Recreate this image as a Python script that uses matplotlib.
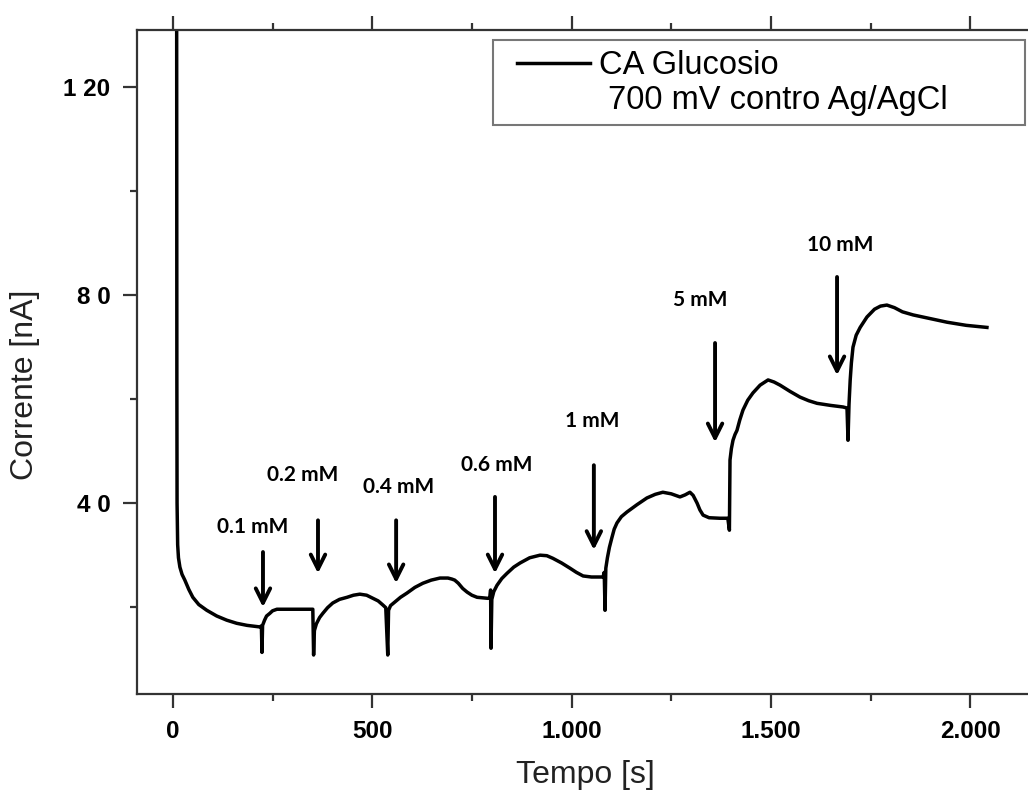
import matplotlib
matplotlib.use("Agg")
import matplotlib.pyplot as plt
from matplotlib.patches import Rectangle
from matplotlib.ticker import FixedLocator, FixedFormatter

# chronoamperometry trace, time [s] and current [nA]
tempo = [9, 10, 10.5, 12, 14, 17.6, 23, 30, 40, 50, 65, 85, 110, 135, 160,
         186, 218, 222, 223.5, 225, 230, 235, 243, 250, 261, 300, 344, 351,
         353, 355, 360, 368, 376, 388, 401, 418, 437, 453, 469, 486, 502,
         515, 527, 534, 539, 541, 546, 557, 571, 587, 607, 627, 648, 670,
         690, 700, 707, 716, 727, 738, 750, 763, 790, 795, 797, 798, 800,
         805, 813, 825, 838, 855, 871, 895, 921, 938, 953, 975, 996, 1012,
         1029, 1050, 1079, 1082, 1084, 1086, 1090, 1095, 1101, 1107, 1114,
         1125, 1139, 1164, 1189, 1210, 1229, 1250, 1272, 1285, 1297, 1305,
         1315, 1322, 1330, 1345, 1372, 1392, 1396, 1397.5, 1401, 1405, 1410,
         1415, 1422, 1430, 1442, 1455, 1473, 1493, 1508, 1523, 1548, 1573,
         1595, 1616, 1650, 1681, 1691, 1693.5, 1696, 1699, 1702, 1706, 1714,
         1724, 1741, 1760, 1775, 1791, 1810, 1830, 1857, 1900, 1942, 1990,
         2042]
corrente = [200, 63.7, 40.0, 32.0, 29.5, 27.7, 26.3, 25.2, 23.4, 21.9, 20.5, 19.4, 18.3, 17.5, 16.9,
            16.5, 16.2, 16.4, 11.3, 16.5, 17.5, 18.3, 18.8, 19.3, 19.6, 19.6, 19.6, 19.6,
            10.8, 15.5, 16.8, 18.0, 18.8, 19.9, 20.8, 21.5, 21.9, 22.3, 22.5, 22.3, 21.7,
            21.2, 20.4, 19.9, 10.8, 19.4, 20.3, 21.0, 21.9, 22.7, 23.8, 24.6, 25.2, 25.6,
            25.6, 25.4, 25.2, 24.6, 23.6, 22.9, 22.3, 21.9, 21.7, 21.8, 23.3, 12.1, 21.5,
            23.0, 24.2, 25.5, 26.5, 27.7, 28.5, 29.5, 30.0, 29.9, 29.4, 28.5, 27.5, 26.7,
            26.0, 25.8, 25.8, 26.7, 19.4, 27.5, 29.5, 31.5, 33.3, 35.0, 36.2,
            37.4, 38.3, 39.7, 41.0, 41.7, 42.1, 41.8, 41.2, 41.6, 42.1, 41.5,
            40.0, 38.7, 37.7, 37.2, 37.1, 37.1, 34.8, 48.3, 50.5, 52.1, 53.2,
            54.0, 56.0, 57.9, 59.8, 61.2, 62.7, 63.7, 63.3, 62.7, 61.5, 60.4,
            59.7, 59.2, 58.8, 58.5, 58.3, 52.1, 59.0, 63.7, 67.0, 70.0, 72.3,
            73.8, 75.8, 77.3, 77.9, 78.1, 77.6, 76.8, 76.2, 75.5, 74.8, 74.2,
            73.8]

# glucose additions: label, time, arrow top, arrow tip, label position
aggiunte = ["0.1 mM", "0.2 mM", "0.4 mM", "0.6 mM", "1 mM", "5 mM", "10 mM"]
t_freccia = [226, 364, 560, 808, 1056, 1360, 1666]
y_inizio = [30.6, 36.7, 36.7, 41.2, 47.3, 70.8, 83.5]
y_punta = [20.0, 26.5, 24.6, 26.5, 31.0, 51.7, 64.6]
t_testo = [200, 326, 565, 813, 1051, 1322, 1673]
y_testo = [35.4, 45.4, 43.1, 47.3, 55.8, 79.0, 89.6]

x_ticks = [0, 500, 1000, 1500, 2000]
x_labels = ["0", "500", "1.000", "1.500", "2.000"]
y_ticks = [40, 80, 120]
y_labels = ["4 0", "8 0", "1 20"]

fig = plt.figure(figsize=(10.28, 7.96), dpi=100)
ax = fig.add_axes([137 / 1028, 102 / 796, 891 / 1028, 664 / 796])

ax.plot(tempo, corrente, color="black", lw=2.5, solid_joinstyle="round",
        label="CA Glucosio")
ax.plot([], [], color="none", label=" 700 mV contro Ag/AgCl")

for lab, t, y0, y1, tt, yt in zip(aggiunte, t_freccia, y_inizio, y_punta, t_testo, y_testo):
    ax.annotate("", xy=(t, y1), xytext=(t, y0),
                arrowprops=dict(arrowstyle="->", lw=2.8, color="black",
                                mutation_scale=26, shrinkA=0, shrinkB=0))
    ax.text(tt, yt, lab, ha="center", va="center", fontsize=15,
            fontfamily="Lato", fontweight="bold")

ax.set_xlim(-90, 2145)
ax.set_ylim(3.3, 131)

ax.spines["right"].set_visible(False)
for s in ["left", "bottom", "top"]:
    ax.spines[s].set_linewidth(1.6)
    ax.spines[s].set_color("#333333")

ax.xaxis.set_major_locator(FixedLocator(x_ticks))
ax.xaxis.set_major_formatter(FixedFormatter(x_labels))
ax.xaxis.set_minor_locator(FixedLocator([250, 750, 1250, 1750]))
ax.yaxis.set_major_locator(FixedLocator(y_ticks))
ax.yaxis.set_major_formatter(FixedFormatter(y_labels))
ax.yaxis.set_minor_locator(FixedLocator([20, 60, 100]))

ax.tick_params(which="both", direction="out", width=1.6, color="#333333",
               top=True, right=False)
ax.tick_params(which="major", length=10)
ax.tick_params(which="minor", length=5)
ax.tick_params(axis="x", which="major", pad=9)
ax.tick_params(axis="y", which="major", pad=9)
for lab in ax.get_xticklabels() + ax.get_yticklabels():
    lab.set_fontfamily("Liberation Sans")
    lab.set_fontweight("bold")
    lab.set_fontsize(17.5)

fig.text(25 / 1028, 1 - 385 / 796, "Corrente [nA]", rotation=90, ha="center",
         va="center", fontsize=23, fontfamily="Liberation Sans", color="#222222")
fig.text(585 / 1028, 1 - 775 / 796, "Tempo [s]", ha="center", va="center",
         fontsize=23, fontfamily="Liberation Sans", color="#222222")

# legend frame drawn separately so it can be wider than its entries
cornice = Rectangle((493 / 1028, 1 - 125 / 796), 532 / 1028, 85 / 796,
                    transform=fig.transFigure, facecolor="white",
                    edgecolor="#777777", lw=1.5, zorder=4, clip_on=False)
ax.add_patch(cornice)
leg = ax.legend(loc="upper left", borderaxespad=0, frameon=False,
                bbox_to_anchor=(517 / 1028, 1 - 50 / 796),
                bbox_transform=fig.transFigure,
                prop={"family": "Liberation Sans", "size": 23.5},
                handlelength=2.25, handletextpad=0.25, labelspacing=0.12,
                borderpad=0)
leg.set_zorder(5)

fig.savefig("out.png", dpi=100)
